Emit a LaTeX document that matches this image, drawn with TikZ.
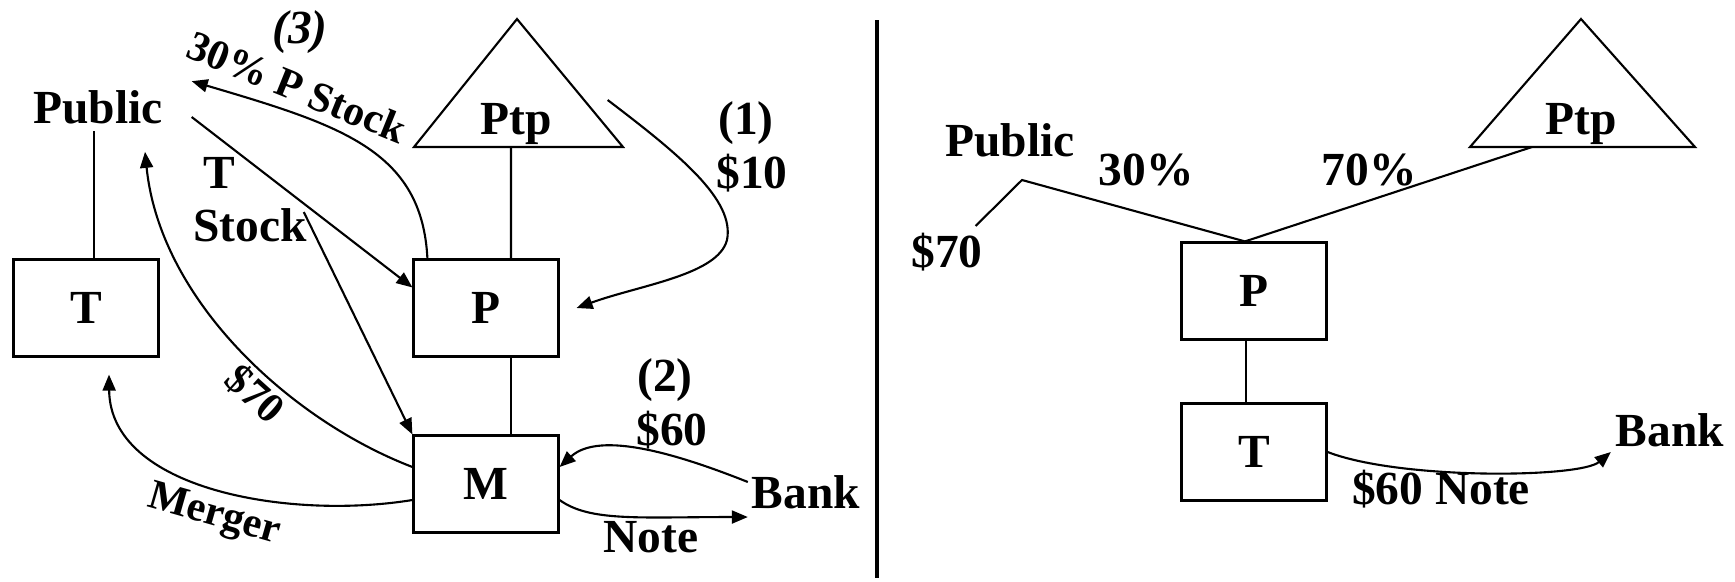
\documentclass[tikz,border=0pt]{standalone}
\usepackage{fontspec}
\setmainfont{Liberation Serif}
\usetikzlibrary{arrows.meta}

\tikzstyle{lbl} = [inner sep=0pt, font=\fontsize{13.5}{15}\selectfont\bfseries]
\tikzstyle{tilted} = [inner sep=0pt, font=\fontsize{12}{14}\selectfont\bfseries]
\tikzstyle{box} = [rectangle, minimum width=1.45cm, minimum height=0.97cm, inner sep=0pt, draw=black, font=\fontsize{13.5}{15}\selectfont\bfseries]
\tikzstyle{arrow} = [-{Triangle[length=1.6mm,width=1.3mm]}]

\begin{document}
\begin{tikzpicture}[x=0.01cm, y=-0.01cm, line width=0.6pt]
\useasboundingbox (0,0) rectangle (1735,581);

% Left: nodes
\node (pubL) [lbl] at (98,107) {Public};
\node (ptpL) [lbl] at (516,124) {Ptp};
\draw (414,147) -- (517,19) -- (623,147) -- cycle;
\coordinate (ptpLbase) at (511,147);
\node (tL) [box] at (86,308) {T};
\node (pL) [box] at (486,308) {P};
\node (mL) [box] at (486,484) {M};
\node (bankL) [lbl] at (806,492) {Bank};

\node (step3) [lbl] at (300,32) {\itshape (3)};
\node (pstock) [tilted, rotate=-22] at (297,87) {30\% P Stock};
\node (tstock) [lbl, align=left] at (250,200) {\hspace{0.1cm}T\\Stock};
\node (step1) [lbl] at (746,123) {(1)};
\node (d10) [lbl] at (752,173) {\$10};
\node (d70L) [tilted, rotate=-42] at (255,394) {\$70};
\node (merger) [tilted, rotate=-16] at (214,516) {Merger};
\node (step2) [lbl] at (665,380) {(2)};
\node (d60L) [lbl] at (672,430) {\$60};
\node (noteL) [lbl] at (651,537) {Note};

% Left: connections
\draw (tL.north) ++(8,0) -- ++(0,-127);
\draw (ptpLbase) -- ([xshift=0.25cm]pL.north);
\draw ([xshift=0.25cm]pL.south) -- ([xshift=0.25cm]mL.north);

\draw [arrow] (pubL.east) ++(28,10) -- ([yshift=-0.29cm]pL.north west);
\draw [arrow] (tstock.east) ++(-4,12) -- (mL.north west);
\draw [arrow] ([xshift=0.15cm]pL.north west) .. controls (422,150) and (340,125) .. ([xshift=0.28cm,yshift=0.08cm]pubL.north east);
\draw [arrow] (ptpL.east) ++(55,-24) .. controls (680,155) and (735,200) .. (727,240) .. controls (718,275) and (640,285) .. ([xshift=0.17cm]pL.east);
\draw [arrow] ([yshift=0.17cm]mL.west) .. controls (290,420) and (160,300) .. ([xshift=0.47cm,yshift=-0.27cm]pubL.south);
\draw [arrow] ([yshift=-0.16cm]mL.west) .. controls (290,520) and (110,490) .. ([xshift=0.23cm,yshift=-0.17cm]tL.south);
\draw [arrow] ([xshift=-0.03cm,yshift=0.1cm]bankL.west) .. controls (680,455) and (600,430) .. ([yshift=0.17cm]mL.east);
\draw [arrow] ([yshift=-0.16cm]mL.east) .. controls (590,522) and (640,517) .. ([xshift=-0.03cm,yshift=-0.25cm]bankL.west);

% divider
\draw [line width=1pt] (877,20) -- (877,578);

% Right: nodes
\node (pubR) [lbl] at (1010,140) {Public};
\node (ptpR) [lbl] at (1581,124) {Ptp};
\draw (1470,147) -- (1581,19) -- (1695,147) -- cycle;
\coordinate (ptpRbase) at (1532,147);
\coordinate (kinkR) at (1022,180);
\node (d70R) [lbl] at (947,252) {\$70};
\node (pct30) [lbl] at (1146,170) {30\%};
\node (pct70) [lbl] at (1369,170) {70\%};
\node (pR) [box] at (1254,291) {P};
\node (tR) [box] at (1254,452) {T};
\node (bankR) [lbl] at (1670,430) {Bank};
\node (noteR) [lbl] at (1441,489) {\$60 Note};

% Right: connections
\draw ([xshift=-0.09cm]pR.north) -- (kinkR) -- ([xshift=-0.08cm,yshift=0.06cm]d70R.north east);
\draw ([xshift=-0.09cm]pR.north) -- (ptpRbase);
\draw ([xshift=-0.08cm]pR.south) -- ([xshift=-0.08cm]tR.north);
\draw [arrow] (tR.east) .. controls (1400,480) and (1580,478) .. ([xshift=-0.04cm,yshift=-0.22cm]bankR.west);

\end{tikzpicture}
\end{document}
